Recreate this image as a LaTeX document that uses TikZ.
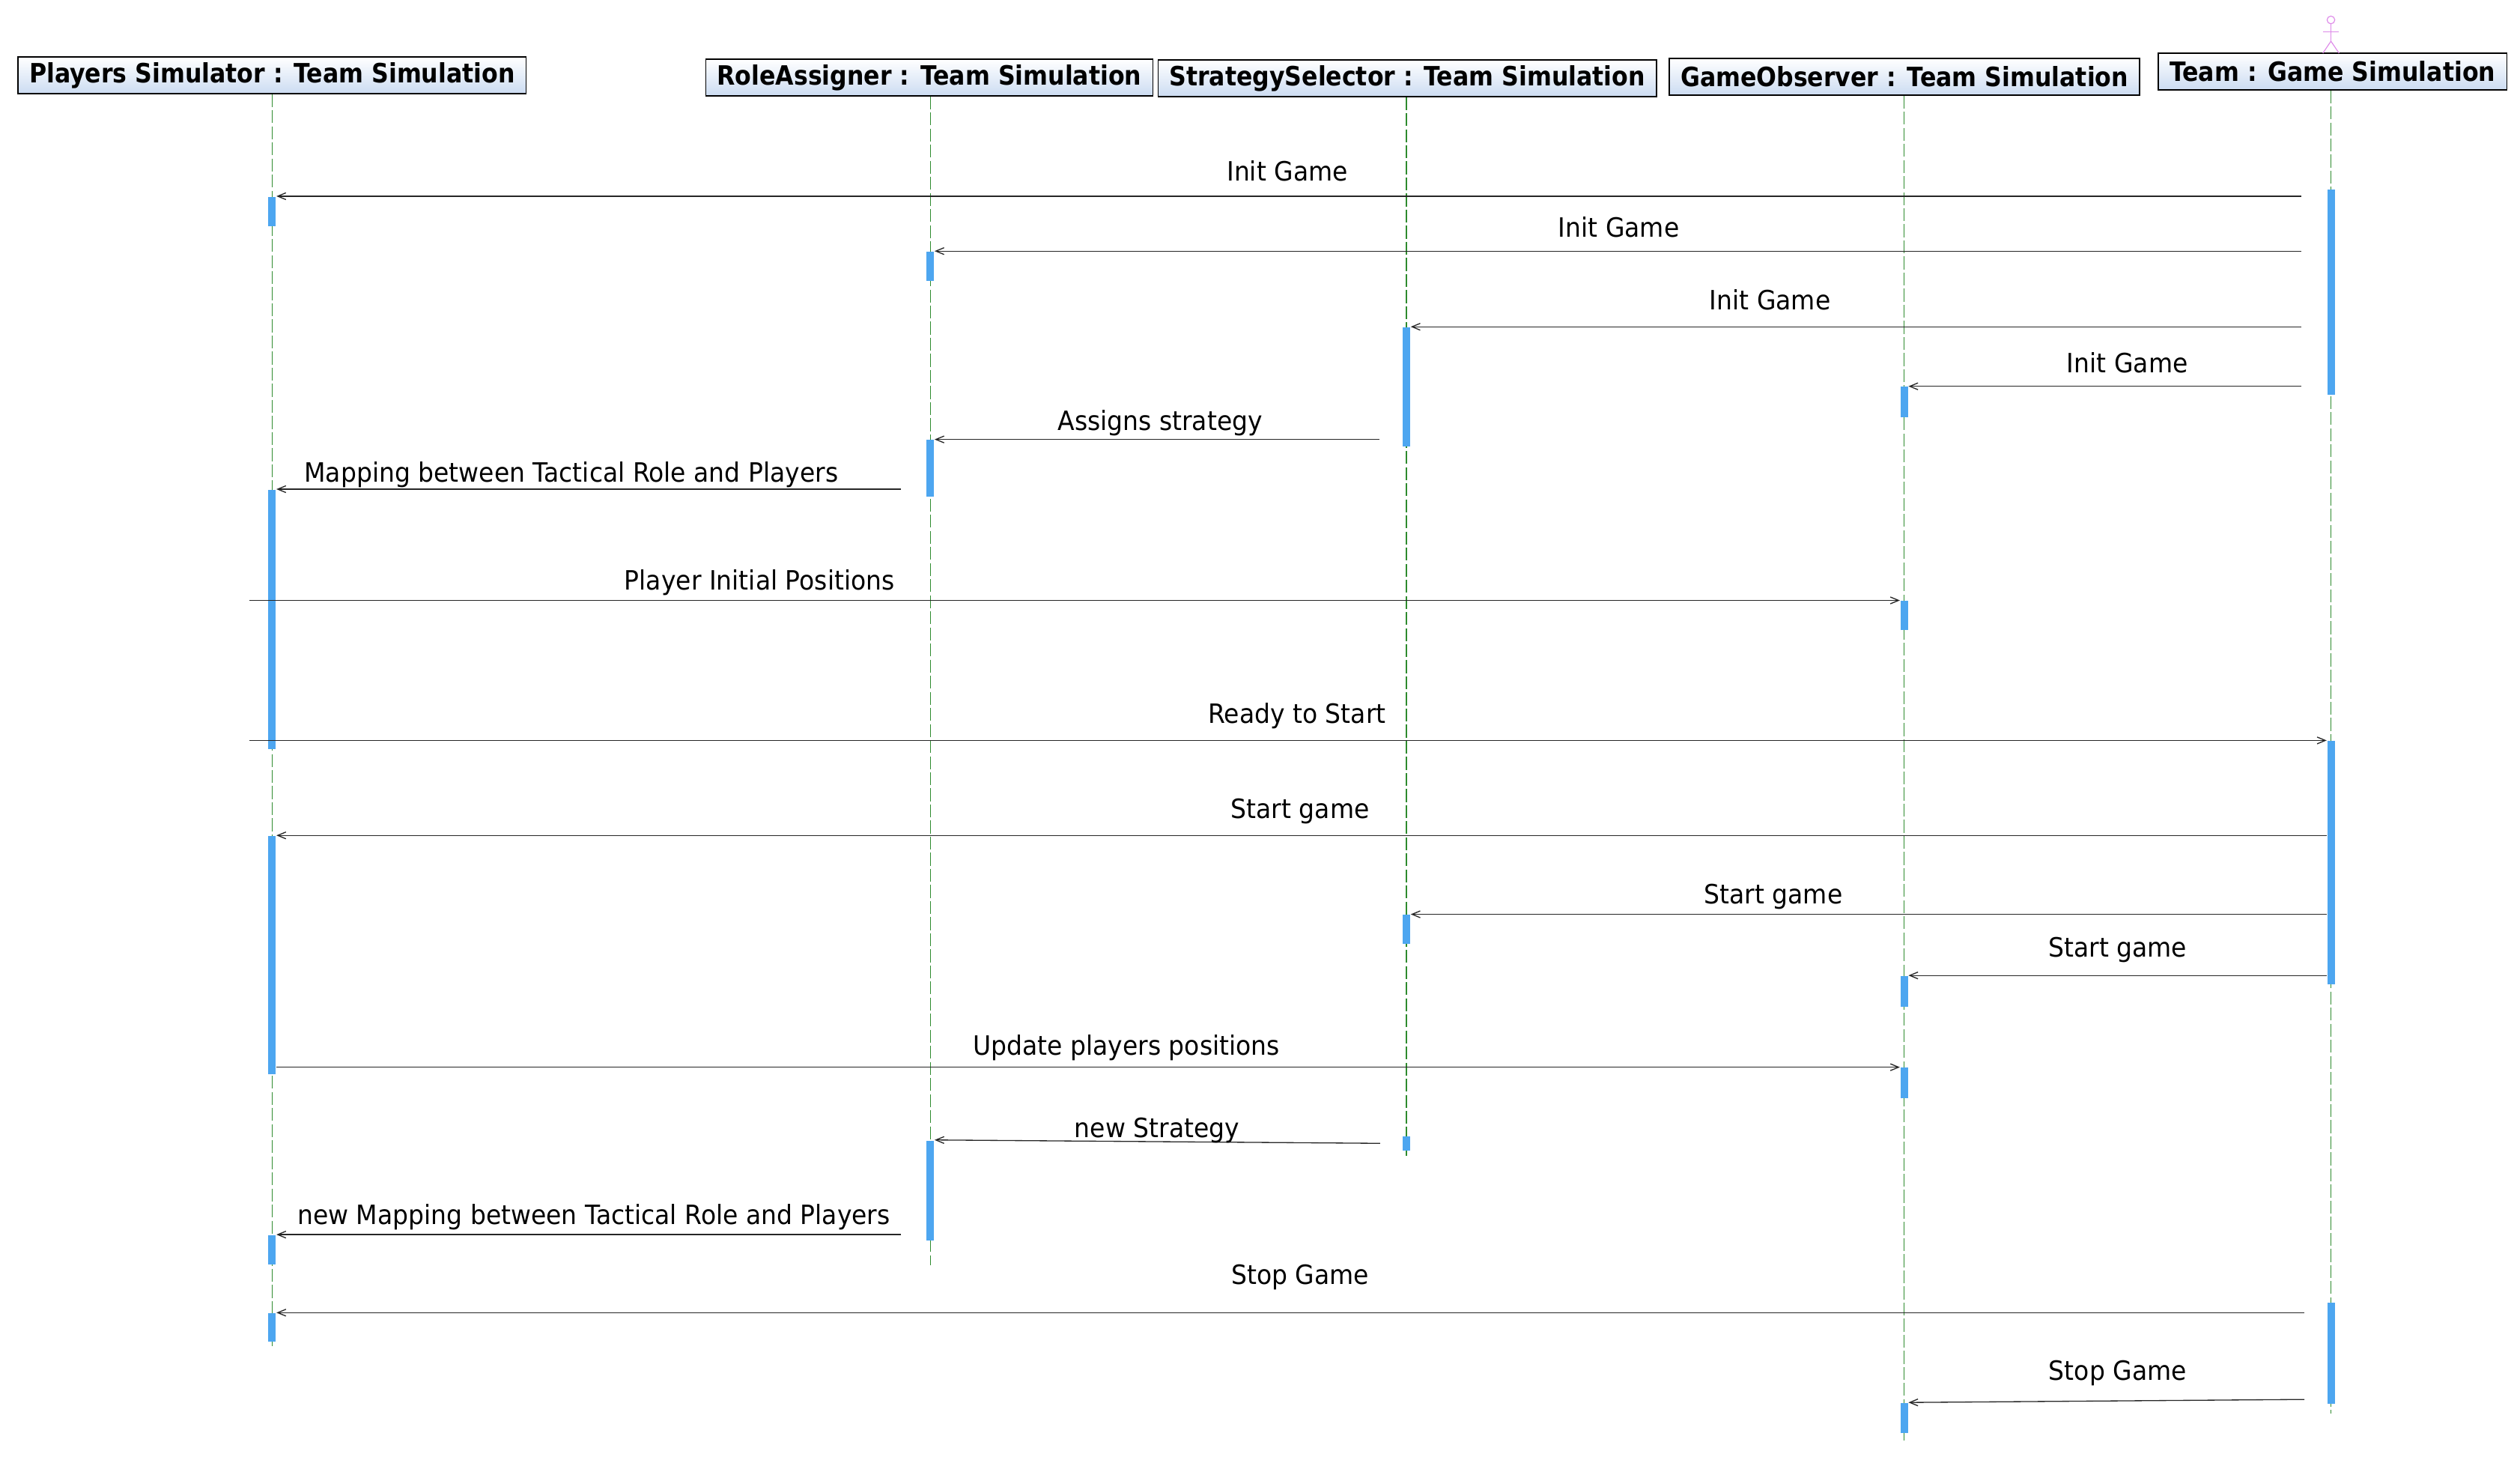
\documentclass[tikz,border=0pt]{standalone}
\usepackage{fontspec}
\setmainfont{DejaVu Sans}[FakeStretch=0.93]
\newfontfamily\headfont{DejaVu Sans}[FakeStretch=0.89]
\usepackage{xcolor}
\usetikzlibrary{arrows.meta, positioning}
\definecolor{actblue}{HTML}{4DA6F0}
\definecolor{lifegreen}{HTML}{2E8B2E}
\definecolor{boxblue}{HTML}{CCDCF2}
\definecolor{actorpink}{HTML}{DD88E8}

\begin{document}
\begin{tikzpicture}[x=0.02cm, y=-0.02cm,
    header/.style={draw=black, line width=0.4pt, top color=white, bottom color=boxblue,
      minimum height=0.454cm, inner xsep=0.14cm, inner ysep=0pt,
      font=\headfont\bfseries\fontsize{9.4}{11}\selectfont},
    act/.style={fill=actblue, minimum width=0.093cm, inner sep=0pt, anchor=north},
    life/.style={lifegreen, line width=0.3pt, dash pattern=on 0.16cm off 0.04cm},
    msg/.style={black!85, line width=0.35pt, -{Straight Barb[length=2.9pt,width=2.4pt]}},
    lbl/.style={anchor=base, inner sep=0pt, font=\fontsize{9.4}{11}\selectfont}]
      \useasboundingbox (0,0) rectangle (1566,905);

      % lifeline heads
      \node[header] (players) at (169.1,46.8) {Players Simulator : Team Simulation};
      \node[header] (roles) at (577.5,48.2) {RoleAssigner : Team Simulation};
      \node[header] (strategy) at (874.5,48.6) {StrategySelector : Team Simulation};
      \node[header] (observer) at (1183.5,47.7) {GameObserver : Team Simulation};
      \node[header] (team) at (1449.5,44.4) {Team : Game Simulation};

      \begin{scope}[actorpink, line width=0.3pt]
        \draw (1448.5,12.4) circle (0.048cm);
        \draw (1443.5,19.7) -- (1453.5,19.7);
        \draw (1448.5,14.8) -- (1448.5,25.6);
        \draw (1443.5,33) -- (1448.5,25.6) -- (1453.5,33);
      \end{scope}

      \coordinate (players-end) at (169.1,838);
      \coordinate (roles-end) at (578.1,786);
      \coordinate (strategy-end) at (874,720);
      \coordinate (observer-end) at (1183.3,895);
      \coordinate (team-end) at (1448.5,878);
      \draw[life] (players.south -| players-end) -- (players-end);
      \draw[life] (roles.south -| roles-end) -- (roles-end);
      \draw[life] (strategy.south -| strategy-end) -- (strategy-end);
      \draw[life] (observer.south -| observer-end) -- (observer-end);
      \draw[life] (team.south -| team-end) -- (team-end);

      % activations
      \node[act, minimum height=0.37cm] (pa1) at (169.1,121.9) {};
      \node[act, minimum height=3.22cm] (pa2) at (169.1,303.9) {};
      \node[act, minimum height=2.96cm] (pa3) at (169.1,519) {};
      \node[act, minimum height=0.36cm] (pa4) at (169.1,767) {};
      \node[act, minimum height=0.35cm] (pa5) at (169.1,815.5) {};

      \node[act, minimum height=0.36cm] (ra1) at (578.1,156) {};
      \node[act, minimum height=0.70cm] (ra2) at (578.1,273) {};
      \node[act, minimum height=1.24cm] (ra3) at (578.1,708.2) {};

      \node[act, minimum height=1.48cm] (sa1) at (874,203) {};
      \node[act, minimum height=0.36cm] (sa2) at (874,568) {};
      \node[act, minimum height=0.18cm] (sa3) at (874,705.5) {};

      \node[act, minimum height=0.38cm] (ga1) at (1183.3,240) {};
      \node[act, minimum height=0.36cm] (ga2) at (1183.3,373) {};
      \node[act, minimum height=0.38cm] (ga3) at (1183.3,606) {};
      \node[act, minimum height=0.38cm] (ga4) at (1183.3,663) {};
      \node[act, minimum height=0.37cm] (ga5) at (1183.3,871.3) {};

      \node[act, minimum height=2.55cm] (ta1) at (1448.5,117.3) {};
      \node[act, minimum height=3.02cm] (ta2) at (1448.5,460) {};
      \node[act, minimum height=1.26cm] (ta3) at (1448.5,809) {};

      % messages
      \coordinate (s1) at (1430,121.9);
      \coordinate (s2) at (1430,156);
      \coordinate (s3) at (1430,203);
      \coordinate (s4) at (1430,240);
      \coordinate (s5) at (857,273);
      \coordinate (s6) at (560,303.9);
      \coordinate (s7) at (155,373);
      \coordinate (s8) at (155,460);
      \coordinate (s9) at (1446,519);
      \coordinate (s10) at (1446,568);
      \coordinate (s11) at (1446,606);
      \coordinate (s13) at (857.6,710.3);
      \coordinate (s14) at (560,767);
      \coordinate (s15) at (1432,815.5);
      \coordinate (s16) at (1432,869.4);

      \draw[msg] (s1) -- (pa1.north east);
      \draw[msg] (s2) -- (ra1.north east);
      \draw[msg] (s3) -- (sa1.north east);
      \draw[msg] (s4) -- (ga1.north east);
      \draw[msg] (s5) -- (ra2.north east);
      \draw[msg] (s6) -- (pa2.north east);
      \draw[msg] (s7) -- (ga2.north west);
      \draw[msg] (s8) -- (ta2.north west);
      \draw[msg] (s9) -- (pa3.north east);
      \draw[msg] (s10) -- (sa2.north east);
      \draw[msg] (s11) -- (ga3.north east);
      \draw[msg] (pa3.east |- ga4.north) -- (ga4.north west);
      \draw[msg] (s13) -- (ra3.north east);
      \draw[msg] (s14) -- (pa4.north east);
      \draw[msg] (s15) -- (pa5.north east);
      \draw[msg] (s16) -- (ga5.north east);

      \node[lbl] (l1) at (800,112.5) {Init Game};
      \node[lbl] (l2) at (1006,147.3) {Init Game};
      \node[lbl] (l3) at (1100,192.3) {Init Game};
      \node[lbl] (l4) at (1322,231.3) {Init Game};
      \node[lbl] (l5) at (721,267.3) {Assigns strategy};
      \node[lbl] (l6) at (355,299.4) {Mapping between Tactical Role and Players};
      \node[lbl] (l7) at (472,366.3) {Player Initial Positions};
      \node[lbl] (l8) at (806,449.3) {Ready to Start};
      \node[lbl] (l9) at (808,508.3) {Start game};
      \node[lbl] (l10) at (1102,561.3) {Start game};
      \node[lbl] (l11) at (1316,594.3) {Start game};
      \node[lbl] (l12) at (700,655.3) {Update players positions};
      \node[lbl] (l13) at (719,706.5) {new Strategy};
      \node[lbl] (l14) at (369,760.8) {new Mapping between Tactical Role and Players};
      \node[lbl] (l15) at (808,798) {Stop Game};
      \node[lbl] (l16) at (1316,857.5) {Stop Game};
\end{tikzpicture}
\end{document}
